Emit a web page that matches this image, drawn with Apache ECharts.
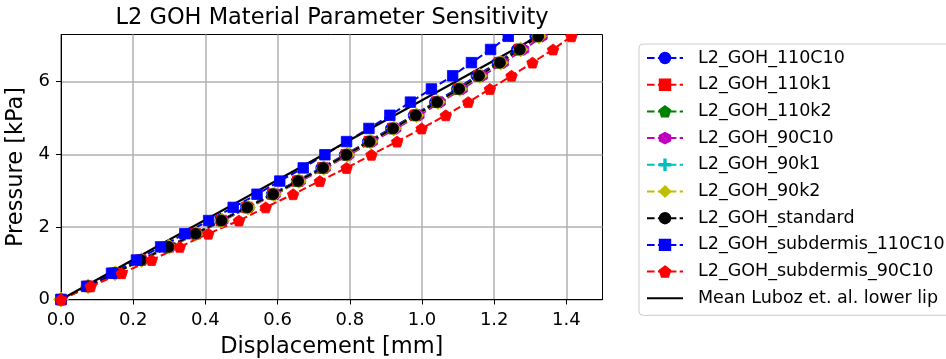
<!DOCTYPE html>
<html>
<head>
<meta charset="utf-8">
<script src="https://cdn.jsdelivr.net/npm/echarts@6/dist/echarts.min.js"></script>
<style>
  html, body { margin: 0; padding: 0; background: #fff; }
  #chart { width: 946px; height: 359px; }
</style>
</head>
<body>
<div id="chart"></div>
<script>
// ---- data ----
const seriesNames = [
  'L2_GOH_110C10', 'L2_GOH_110k1', 'L2_GOH_110k2', 'L2_GOH_90C10', 'L2_GOH_90k1',
  'L2_GOH_90k2', 'L2_GOH_standard', 'L2_GOH_subdermis_110C10', 'L2_GOH_subdermis_90C10',
  'Mean Luboz et. al. lower lip'
];
// pressure levels shared by all simulations [kPa]
const pressure = [0, 0.3625, 0.725, 1.0875, 1.45, 1.8125, 2.175, 2.5375, 2.9, 3.2625, 3.625,
  3.9875, 4.35, 4.7125, 5.075, 5.4375, 5.8, 6.1625, 6.525, 6.8875, 7.25];
// displacements [mm]
const disp110C10 = [0, 0.074, 0.147, 0.220, 0.295, 0.370, 0.442, 0.512, 0.584, 0.653, 0.721, 0.786,
  0.850, 0.914, 0.977, 1.036, 1.097, 1.151, 1.209, 1.263, 1.314];
const disp110k1 = [0, 0.075, 0.148, 0.221, 0.297, 0.372, 0.444, 0.515, 0.587, 0.656, 0.725, 0.790,
  0.854, 0.919, 0.982, 1.041, 1.102, 1.157, 1.215, 1.270, 1.321];
const disp110k2 = [0, 0.075, 0.149, 0.221, 0.297, 0.372, 0.444, 0.515, 0.587, 0.656, 0.725, 0.790,
  0.854, 0.919, 0.981, 1.041, 1.101, 1.157, 1.214, 1.269, 1.320];
const disp90C10 = [0, 0.076, 0.151, 0.225, 0.302, 0.377, 0.449, 0.521, 0.594, 0.663, 0.733, 0.798,
  0.863, 0.928, 0.992, 1.051, 1.112, 1.168, 1.226, 1.282, 1.333];
const disp90k1 = [0, 0.075, 0.149, 0.223, 0.299, 0.374, 0.446, 0.517, 0.589, 0.658, 0.727, 0.792,
  0.856, 0.921, 0.984, 1.043, 1.104, 1.159, 1.217, 1.272, 1.323];
const disp90k2 = [0, 0.075, 0.150, 0.223, 0.299, 0.374, 0.446, 0.518, 0.590, 0.659, 0.728, 0.793,
  0.857, 0.922, 0.985, 1.044, 1.105, 1.160, 1.218, 1.273, 1.324];
const dispStandard = [0, 0.075, 0.149, 0.222, 0.298, 0.373, 0.445, 0.516, 0.588, 0.657, 0.726, 0.791,
  0.855, 0.920, 0.983, 1.042, 1.103, 1.158, 1.216, 1.271, 1.322];
const dispSub110C10 = [0, 0.071, 0.140, 0.209, 0.276, 0.343, 0.409, 0.477, 0.543, 0.606, 0.671, 0.731,
  0.791, 0.853, 0.911, 0.968, 1.026, 1.085, 1.137, 1.190, 1.239];
const dispSub90C10 = [0, 0.082, 0.168, 0.251, 0.329, 0.408, 0.493, 0.567, 0.643, 0.717, 0.791, 0.860,
  0.931, 0.999, 1.066, 1.128, 1.188, 1.248, 1.306, 1.363, 1.414];
const lubozDisp = [0, 1.33];
const lubozPressure = [0, 7.3];
// axis ticks
const xTicks = [0, 0.2, 0.4, 0.6, 0.8, 1.0, 1.2, 1.4];
const yTicks = [0, 2, 4, 6];

// ---- styling ----
const FONT = 'DejaVu Sans';
const PENTAGON = 'path://M0,-10L9.511,-3.09L5.878,8.09L-5.878,8.09L-9.511,-3.09Z';
const HEXAGON = 'path://M0,-10L8.66,-5L8.66,5L0,10L-8.66,5L-8.66,-5Z';
const PLUS = 'path://M-10,-1.3L-1.3,-1.3L-1.3,-10L1.3,-10L1.3,-1.3L10,-1.3L10,1.3L1.3,1.3L1.3,10L-1.3,10L-1.3,1.3L-10,1.3Z';
const DASH = [7.6, 3.3];

function pairs(xs, ys) { return xs.map((x, i) => [x, ys[i]]); }

function simSeries(name, xs, color, symbol, size) {
  return {
    name: name, type: 'line', data: pairs(xs, pressure),
    symbol: symbol, symbolSize: size, symbolKeepAspect: true,
    showSymbol: true, showAllSymbol: true, clip: true,
    itemStyle: { color: color, borderColor: color, borderWidth: 0.8 },
    lineStyle: { color: color, width: 2, type: DASH },
    emphasis: { disabled: true }, animation: false, silent: true
  };
}

const series = [
  simSeries(seriesNames[0], disp110C10, '#0000ff', 'circle', 11),
  simSeries(seriesNames[1], disp110k1, '#ff0000', 'rect', 10.5),
  simSeries(seriesNames[2], disp110k2, '#008000', PENTAGON, 11.5),
  simSeries(seriesNames[3], disp90C10, '#bf00bf', HEXAGON, 11.5),
  simSeries(seriesNames[4], disp90k1, '#00bfbf', PLUS, 11),
  simSeries(seriesNames[5], disp90k2, '#bfbf00', 'diamond', 15),
  simSeries(seriesNames[6], dispStandard, '#000000', 'circle', 11),
  simSeries(seriesNames[7], dispSub110C10, '#0000ff', 'rect', 10.5),
  simSeries(seriesNames[8], dispSub90C10, '#ff0000', PENTAGON, 11.5),
  {
    name: seriesNames[9], type: 'line', data: pairs(lubozDisp, lubozPressure),
    symbol: 'none', showSymbol: false, clip: true,
    lineStyle: { color: '#000000', width: 2, type: 'solid' },
    itemStyle: { color: '#000000' },
    emphasis: { disabled: true }, animation: false, silent: true
  }
];

const legendData = seriesNames.map((n, i) => i === 9
  ? { name: n, icon: 'path://M0,0L36,0L36,2L0,2Z' }
  : { name: n });

const GRID = { left: 61, top: 34.5, width: 541.5, height: 265 };

const chart = echarts.init(document.getElementById('chart'), null, { renderer: 'canvas' });
chart.setOption({
  animation: false,
  backgroundColor: '#ffffff',
  title: {
    text: 'L2 GOH Material Parameter Sensitivity',
    left: 332, top: 7, padding: 0, textAlign: 'center', z: 50,
    textStyle: { fontFamily: FONT, fontSize: 22.5, fontWeight: 'normal', color: '#000' }
  },
  grid: Object.assign({
    show: true, borderColor: '#000', borderWidth: 1, backgroundColor: 'transparent',
    containLabel: false, outerBoundsMode: 'none'
  }, GRID),
  xAxis: {
    type: 'value', min: 0, max: 1.5, interval: 0.2,
    name: 'Displacement [mm]', nameLocation: 'middle', nameGap: 36,
    nameTextStyle: { fontFamily: FONT, fontSize: 22.5, color: '#000' },
    axisLine: { show: true, onZero: false, lineStyle: { color: '#000', width: 1 } },
    axisTick: { show: true, inside: false, length: 5, customValues: xTicks, lineStyle: { color: '#000', width: 1 } },
    axisLabel: { customValues: xTicks, margin: 12, fontFamily: FONT, fontSize: 18, color: '#000',
      formatter: v => Number(v).toFixed(1) },
    splitLine: { show: true, lineStyle: { color: '#b0b0b0', width: 1.5 } }
  },
  yAxis: {
    type: 'value', min: 0, max: 7.3, interval: 2,
    name: 'Pressure [kPa]', nameLocation: 'middle', nameGap: 30,
    nameTextStyle: { fontFamily: FONT, fontSize: 22.5, color: '#000' },
    axisLine: { show: true, onZero: false, lineStyle: { color: '#000', width: 1 } },
    axisTick: { show: true, inside: false, length: 5, customValues: yTicks, lineStyle: { color: '#000', width: 1 } },
    axisLabel: { customValues: yTicks, margin: 11, fontFamily: FONT, fontSize: 18, color: '#000',
      formatter: v => String(v) },
    splitLine: { show: true, lineStyle: { color: '#b0b0b0', width: 1.5 } }
  },
  legend: {
    orient: 'vertical', left: 639, top: 44,
    padding: [5, 20, 8, 7],
    itemWidth: 36, itemHeight: 13, itemGap: 8.7,
    backgroundColor: 'rgba(255,255,255,0.8)', borderColor: '#cccccc', borderWidth: 1, borderRadius: 4,
    textStyle: { fontFamily: FONT, fontSize: 17.5, color: '#000', lineHeight: 18, padding: [0, 0, 0, 10] },
    selectedMode: false,
    data: legendData
  },
  series: series
});

// mask marker parts that spill above the plot area (matplotlib clips markers to the axes)
const topLeft = chart.convertToPixel({ gridIndex: 0 }, [0, 7.3]);
const topRight = chart.convertToPixel({ gridIndex: 0 }, [1.5, 7.3]);
chart.setOption({
  graphic: [{
    type: 'rect', z: 20, silent: true,
    shape: { x: topLeft[0] + 0.5, y: topLeft[1] - 8, width: topRight[0] - topLeft[0] + 8, height: 7.5 },
    style: { fill: '#ffffff' }
  }]
});
</script>
</body>
</html>
